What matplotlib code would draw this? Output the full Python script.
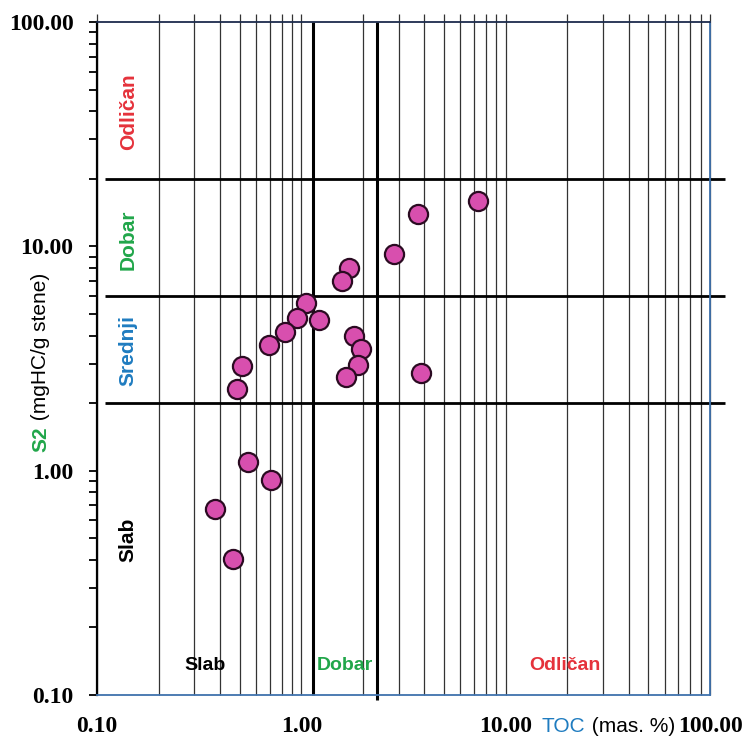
import matplotlib
matplotlib.use("Agg")
import matplotlib.pyplot as plt
from matplotlib.ticker import FixedLocator, NullFormatter

# TOC (mas. %) and S2 (mgHC/g stene)
toc = [3.71, 7.35, 2.83, 1.71, 1.58, 1.05, 0.953, 1.22, 0.832, 0.697, 1.81,
       1.96, 1.90, 1.66, 3.85, 0.513, 0.483, 0.548, 0.711, 0.378, 0.463]
s2 = [13.9, 16.0, 9.28, 7.98, 7.03, 5.57, 4.81, 4.70, 4.17, 3.65, 3.97,
      3.48, 2.95, 2.62, 2.73, 2.93, 2.32, 1.09, 0.909, 0.675, 0.404]

# class boundaries
s2_limits = [2, 6, 20]
toc_limits = [1.14, 2.35]

major_ticks = [0.1, 1, 10, 100]
major_labels = ["0.10", "1.00", "10.00", "100.00"]

RED = "#e5323b"
GREEN = "#21a64a"
BLUE = "#1f7cc0"
SANS = ["Liberation Sans", "DejaVu Sans"]

fig = plt.figure(figsize=(7.45, 7.40), dpi=100)
ax = fig.add_axes([97 / 745, 45 / 740, 613 / 745, 673 / 740])
ax.set_xscale("log")
ax.set_yscale("log")
ax.set_xlim(0.1, 100)
ax.set_ylim(0.1, 100)

# vertical grid at every log step, poking a bit above the top
grid_x = [m * 10.0 ** e for e in range(-1, 2) for m in range(1, 10)] + [100]
ax.vlines(grid_x, 0, 1.012, transform=ax.get_xaxis_transform(),
          colors="#333333", linewidth=0.9, clip_on=False, zorder=1)

# thick class lines
ax.vlines(toc_limits[0], 0, 1.0, transform=ax.get_xaxis_transform(),
          colors="black", linewidth=2.2, clip_on=False, zorder=2)
ax.vlines(toc_limits[1], -0.008, 1.0, transform=ax.get_xaxis_transform(),
          colors="black", linewidth=2.2, clip_on=False, zorder=2)
ax.hlines(s2_limits, 0.013, 1.025, transform=ax.get_yaxis_transform(),
          colors="black", linewidth=2.0, clip_on=False, zorder=2)

ax.scatter(toc, s2, s=190, color="#d84fae", edgecolors="#2b0b22",
           linewidths=1.6, zorder=5)

# spines
ax.spines["left"].set_color("black")
ax.spines["left"].set_linewidth(1.6)
ax.spines["top"].set_color("#1c2b4d")
ax.spines["top"].set_linewidth(1.3)
for side in ["right", "bottom"]:
    ax.spines[side].set_color("#3f72ad")
    ax.spines[side].set_linewidth(1.3)

# ticks
ax.xaxis.set_major_locator(FixedLocator(major_ticks))
ax.xaxis.set_minor_locator(FixedLocator([]))
ax.set_xticklabels(major_labels)
ax.tick_params(axis="x", which="both", length=0, pad=15)
ax.yaxis.set_major_locator(FixedLocator(major_ticks))
ax.set_yticklabels(major_labels)
ax.yaxis.set_minor_locator(FixedLocator(
    [m * 10.0 ** e for e in range(-1, 2) for m in range(2, 10)]))
ax.yaxis.set_minor_formatter(NullFormatter())
ax.tick_params(axis="y", which="both", direction="out", length=6,
               width=1.3, color="black", pad=11)
for lab in ax.get_xticklabels() + ax.get_yticklabels():
    lab.set_fontfamily(["Liberation Serif", "DejaVu Serif"])
    lab.set_fontweight("bold")
    lab.set_fontsize(17)

# class labels inside the plot
for y, txt, col in [(40, "Odličan", RED), (10.7, "Dobar", GREEN),
                    (3.45, "Srednji", BLUE), (0.49, "Slab", "black")]:
    ax.text(0.051, y, txt, transform=ax.get_yaxis_transform(),
            rotation=90, ha="center", va="center", color=col, fontsize=15,
            fontweight="bold", family=SANS)
for x, txt, col in [(0.338, "Slab", "black"), (1.64, "Dobar", GREEN),
                    (19.5, "Odličan", RED)]:
    ax.text(x, 0.135, txt, ha="center", va="center", color=col,
            fontsize=14, fontweight="bold", family=SANS)

# axis titles made of two colours
s2_txt = fig.text(41 / 745, 1 - 452 / 740, "S2", rotation=90, color=GREEN,
                  fontsize=15, fontweight="bold", family=SANS,
                  ha="center", va="bottom")
ax.annotate(" (mgHC/g stene)", xy=(0.5, 1), xycoords=s2_txt, rotation=90,
            color="black", fontsize=15, family=SANS, ha="center", va="bottom")
toc_txt = fig.text(542 / 745, 1 - 726 / 740, "TOC", color=BLUE, fontsize=15,
                   family=SANS, ha="left", va="center")
ax.annotate(" (mas. %)", xy=(1, 0.5), xycoords=toc_txt, color="black",
            fontsize=15, family=SANS, ha="left", va="center")

fig.savefig("out.png", dpi=100)
